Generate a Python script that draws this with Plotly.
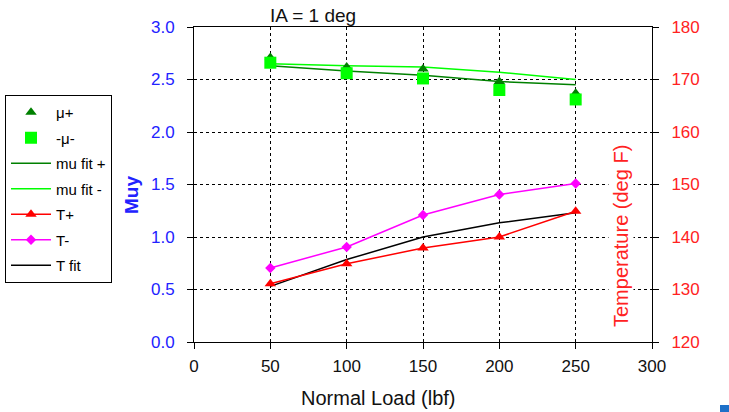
import plotly.graph_objects as go

loads = [50, 100, 150, 200, 250]
mu_plus = [2.71, 2.62, 2.60, 2.48, 2.37]
mu_minus = [2.66, 2.56, 2.51, 2.40, 2.31]
mu_fit_plus = [2.63, 2.58, 2.54, 2.48, 2.45]
mu_fit_minus = [2.65, 2.63, 2.62, 2.57, 2.50]
t_plus = [131.1, 134.9, 137.9, 140.0, 144.9]
t_minus = [134.1, 138.1, 144.2, 148.1, 150.2]
t_fit = [130.6, 135.7, 140.0, 142.7, 144.6]

FONT = "Liberation Sans, Arial, sans-serif"
fig = go.Figure()

fig.add_trace(go.Scatter(x=loads, y=mu_fit_plus, mode="lines", name="mu fit +",
                         line=dict(color="#008000", width=1.5), legendgroup="c", legendrank=3))
fig.add_trace(go.Scatter(x=loads, y=mu_fit_minus, mode="lines", name="mu fit -",
                         line=dict(color="#00FF00", width=1.5), legendgroup="d", legendrank=4))
fig.add_trace(go.Scatter(x=loads, y=mu_plus, mode="markers", name="μ+",
                         marker=dict(symbol="triangle-up", color="#008000", size=10),
                         legendgroup="a", legendrank=1))
fig.add_trace(go.Scatter(x=loads, y=mu_minus, mode="markers", name="-μ-",
                         marker=dict(symbol="square", color="#00FF00", size=12),
                         legendgroup="b", legendrank=2))
fig.add_trace(go.Scatter(x=loads, y=t_fit, mode="lines", name="T fit", yaxis="y2",
                         line=dict(color="black", width=1.5), legendgroup="g", legendrank=7))
fig.add_trace(go.Scatter(x=loads, y=t_plus, mode="lines+markers", name="T+", yaxis="y2",
                         line=dict(color="#FF0000", width=1.5),
                         marker=dict(symbol="triangle-up", color="#FF0000", size=10),
                         legendgroup="e", legendrank=5))
fig.add_trace(go.Scatter(x=loads, y=t_minus, mode="lines+markers", name="T-", yaxis="y2",
                         line=dict(color="#FF00FF", width=1.5),
                         marker=dict(symbol="diamond", color="#FF00FF", size=8),
                         legendgroup="f", legendrank=6))

W, H = 729, 412
L, R, T, B = 194, 77, 27, 70
pw, ph = W - L - R, H - T - B

def px(x):
    return (x - L) / pw

def py(y):
    return (H - B - y) / ph

fig.update_layout(
    width=W, height=H,
    margin=dict(l=L, r=R, t=T, b=B, autoexpand=False),
    paper_bgcolor="white", plot_bgcolor="white",
    font=dict(family=FONT, size=17, color="black"),
    showlegend=True,
    legend=dict(x=px(5), y=py(95), xanchor="left", yanchor="top",
                bordercolor="black", borderwidth=1, bgcolor="white",
                font=dict(size=15, family=FONT), traceorder="grouped",
                tracegroupgap=3, itemwidth=40),
    xaxis=dict(range=[0, 300], tickvals=[0, 50, 100, 150, 200, 250, 300],
               showgrid=True, gridcolor="black", griddash="dot", gridwidth=1,
               showline=True, linecolor="black", linewidth=1, mirror=True,
               ticks="outside", ticklen=6, tickcolor="black", ticklabelstandoff=3,
               tickfont=dict(size=17, color="#111111"), zeroline=False, automargin=False),
    yaxis=dict(range=[0, 3.0], tickvals=[0, 0.5, 1.0, 1.5, 2.0, 2.5, 3.0],
               tickformat=".1f",
               showgrid=True, gridcolor="black", griddash="dot", gridwidth=1,
               showline=True, linecolor="black", linewidth=1,
               ticks="outside", ticklen=6, tickcolor="black", ticklabelstandoff=9,
               tickfont=dict(size=17, color="#2222FF"), zeroline=False, automargin=False),
    yaxis2=dict(range=[120, 180], tickvals=[120, 130, 140, 150, 160, 170, 180],
                overlaying="y", side="right", showgrid=False,
                showline=True, linecolor="black", linewidth=1,
                ticks="outside", ticklen=6, tickcolor="black", ticklabelstandoff=9,
                tickfont=dict(size=17, color="#FF2222"), zeroline=False, automargin=False),
    annotations=[
        dict(text="IA = 1 deg", x=px(313), y=py(16), xref="paper", yref="paper",
             xanchor="center", yanchor="middle",
             showarrow=False, font=dict(size=19, color="#111111")),
        dict(text="Normal Load (lbf)", x=px(378), y=py(398), xref="paper", yref="paper",
             xanchor="center", yanchor="middle",
             showarrow=False, font=dict(size=20, color="#111111")),
        dict(text="<b>Muy</b>", x=px(131), y=py(195), xref="paper", yref="paper",
             xanchor="center", yanchor="middle",
             showarrow=False, textangle=-90, font=dict(size=19, color="#2222FF")),
        dict(text="Temperature (deg F)", x=px(621), y=py(236), xref="paper", yref="paper",
             xanchor="center", yanchor="middle",
             showarrow=False, textangle=-90, bgcolor="white",
             font=dict(size=20, color="#FF2222")),
    ],
    shapes=[dict(type="rect", xref="paper", yref="paper",
                 x0=px(720), x1=px(729), y0=py(412), y1=py(405),
                 fillcolor="#1E70C8", line=dict(width=0))],
)

fig.write_html("out.html")
